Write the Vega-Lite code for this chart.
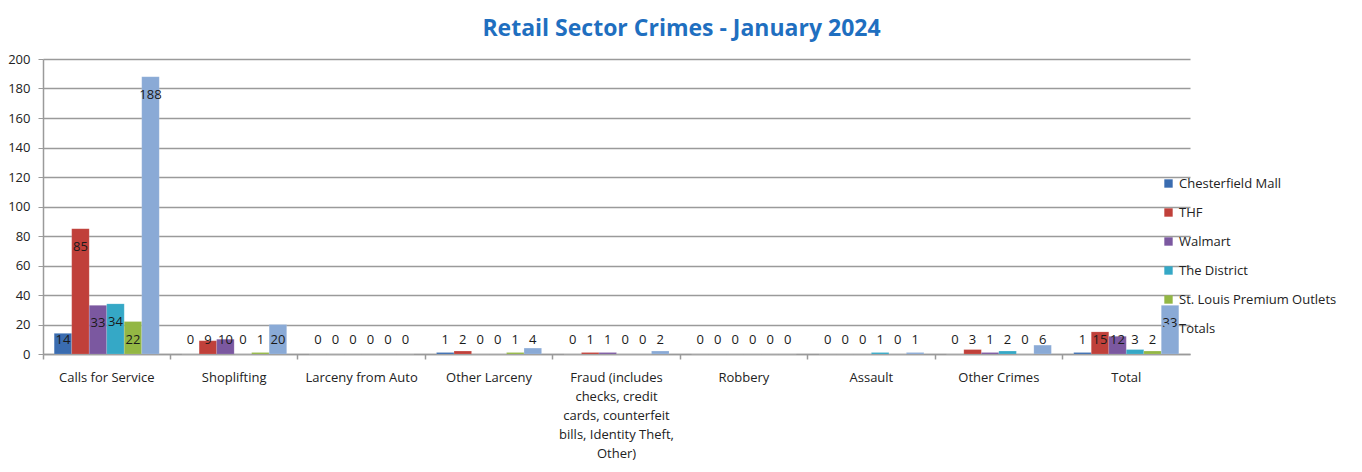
{
  "$schema": "https://vega.github.io/schema/vega-lite/v6.json",
  "width": 1147,
  "height": 295,
  "autosize": {"type": "none"},
  "padding": {"left": 43, "top": 59, "right": 172, "bottom": 118},
  "background": "white",
  "title": {
    "text": "Retail Sector Crimes - January 2024",
    "font": "Open Sans",
    "fontSize": 23,
    "fontWeight": "bold",
    "color": "#1F6FC0",
    "anchor": "middle",
    "dx": 65,
    "offset": 12
  },
  "config": {
    "view": {"stroke": null},
    "axis": {"labelFont": "Open Sans", "labelFontSize": 13, "labelColor": "#222222"},
    "legend": {"labelFont": "Open Sans", "labelFontSize": 13, "labelColor": "#222222"}
  },
  "data": {
    "values": [
      {"category": "Calls for Service", "series": "Chesterfield Mall", "value": 14},
      {"category": "Calls for Service", "series": "THF", "value": 85},
      {"category": "Calls for Service", "series": "Walmart", "value": 33},
      {"category": "Calls for Service", "series": "The District", "value": 34},
      {"category": "Calls for Service", "series": "St. Louis Premium Outlets", "value": 22},
      {"category": "Calls for Service", "series": "Totals", "value": 188},
      {"category": "Shoplifting", "series": "Chesterfield Mall", "value": 0},
      {"category": "Shoplifting", "series": "THF", "value": 9},
      {"category": "Shoplifting", "series": "Walmart", "value": 10},
      {"category": "Shoplifting", "series": "The District", "value": 0},
      {"category": "Shoplifting", "series": "St. Louis Premium Outlets", "value": 1},
      {"category": "Shoplifting", "series": "Totals", "value": 20},
      {"category": "Larceny from Auto", "series": "Chesterfield Mall", "value": 0},
      {"category": "Larceny from Auto", "series": "THF", "value": 0},
      {"category": "Larceny from Auto", "series": "Walmart", "value": 0},
      {"category": "Larceny from Auto", "series": "The District", "value": 0},
      {"category": "Larceny from Auto", "series": "St. Louis Premium Outlets", "value": 0},
      {"category": "Larceny from Auto", "series": "Totals", "value": 0},
      {"category": "Other Larceny", "series": "Chesterfield Mall", "value": 1},
      {"category": "Other Larceny", "series": "THF", "value": 2},
      {"category": "Other Larceny", "series": "Walmart", "value": 0},
      {"category": "Other Larceny", "series": "The District", "value": 0},
      {"category": "Other Larceny", "series": "St. Louis Premium Outlets", "value": 1},
      {"category": "Other Larceny", "series": "Totals", "value": 4},
      {"category": "Fraud (includes checks, credit cards, counterfeit bills, Identity Theft, Other)", "series": "Chesterfield Mall", "value": 0},
      {"category": "Fraud (includes checks, credit cards, counterfeit bills, Identity Theft, Other)", "series": "THF", "value": 1},
      {"category": "Fraud (includes checks, credit cards, counterfeit bills, Identity Theft, Other)", "series": "Walmart", "value": 1},
      {"category": "Fraud (includes checks, credit cards, counterfeit bills, Identity Theft, Other)", "series": "The District", "value": 0},
      {"category": "Fraud (includes checks, credit cards, counterfeit bills, Identity Theft, Other)", "series": "St. Louis Premium Outlets", "value": 0},
      {"category": "Fraud (includes checks, credit cards, counterfeit bills, Identity Theft, Other)", "series": "Totals", "value": 2},
      {"category": "Robbery", "series": "Chesterfield Mall", "value": 0},
      {"category": "Robbery", "series": "THF", "value": 0},
      {"category": "Robbery", "series": "Walmart", "value": 0},
      {"category": "Robbery", "series": "The District", "value": 0},
      {"category": "Robbery", "series": "St. Louis Premium Outlets", "value": 0},
      {"category": "Robbery", "series": "Totals", "value": 0},
      {"category": "Assault", "series": "Chesterfield Mall", "value": 0},
      {"category": "Assault", "series": "THF", "value": 0},
      {"category": "Assault", "series": "Walmart", "value": 0},
      {"category": "Assault", "series": "The District", "value": 1},
      {"category": "Assault", "series": "St. Louis Premium Outlets", "value": 0},
      {"category": "Assault", "series": "Totals", "value": 1},
      {"category": "Other Crimes", "series": "Chesterfield Mall", "value": 0},
      {"category": "Other Crimes", "series": "THF", "value": 3},
      {"category": "Other Crimes", "series": "Walmart", "value": 1},
      {"category": "Other Crimes", "series": "The District", "value": 2},
      {"category": "Other Crimes", "series": "St. Louis Premium Outlets", "value": 0},
      {"category": "Other Crimes", "series": "Totals", "value": 6},
      {"category": "Total", "series": "Chesterfield Mall", "value": 1},
      {"category": "Total", "series": "THF", "value": 15},
      {"category": "Total", "series": "Walmart", "value": 12},
      {"category": "Total", "series": "The District", "value": 3},
      {"category": "Total", "series": "St. Louis Premium Outlets", "value": 2},
      {"category": "Total", "series": "Totals", "value": 33}
    ]
  },
  "encoding": {
    "x": {
      "field": "category",
      "type": "nominal",
      "sort": null,
      "axis": null,
      "scale": {"paddingInner": 0, "paddingOuter": 0}
    },
    "xOffset": {
      "field": "series",
      "type": "nominal",
      "sort": ["Chesterfield Mall", "THF", "Walmart", "The District", "St. Louis Premium Outlets", "Totals"],
      "scale": {"paddingInner": 0, "paddingOuter": 0.64}
    }
  },
  "layer": [
    {
      "mark": {"type": "bar", "stroke": "#ffffff", "strokeOpacity": 0.25, "strokeWidth": 0.5},
      "encoding": {
        "x": {
          "field": "category",
          "type": "nominal",
          "sort": null,
          "title": null,
          "axis": {
            "orient": "bottom",
            "labelAngle": 0,
            "ticks": false,
            "domainColor": "#9a9a9a",
            "domainWidth": 1.5,
            "labelPadding": 17,
            "labelLineHeight": 19,
            "labelLimit": 200,
            "labelExpr": "datum.value == 'Fraud (includes checks, credit cards, counterfeit bills, Identity Theft, Other)' ? ['Fraud (includes', 'checks, credit', 'cards, counterfeit', 'bills, Identity Theft,', 'Other)'] : datum.value"
          }
        },
        "y": {
          "field": "value",
          "type": "quantitative",
          "title": null,
          "scale": {"domain": [0, 200]},
          "axis": {
            "values": [0, 20, 40, 60, 80, 100, 120, 140, 160, 180, 200],
            "labelOverlap": false,
            "domainColor": "#9a9a9a",
            "domainWidth": 1.5,
            "tickColor": "#9a9a9a",
            "tickSize": 5,
            "labelPadding": 8,
            "gridColor": "#9a9a9a",
            "gridWidth": 1.5
          }
        },
        "color": {
          "field": "series",
          "type": "nominal",
          "title": null,
          "sort": ["Chesterfield Mall", "THF", "Walmart", "The District", "St. Louis Premium Outlets", "Totals"],
          "scale": {
            "domain": ["Chesterfield Mall", "THF", "Walmart", "The District", "St. Louis Premium Outlets", "Totals"],
            "range": ["#3A6CB0", "#C0403A", "#7B58A0", "#35A8C6", "#93B744", "#8AAAD6"]
          },
          "legend": {
            "orient": "none",
            "legendX": 1119,
            "legendY": 118,
            "symbolType": "square",
            "symbolSize": 70,
            "symbolStrokeWidth": 0,
            "labelOffset": 4,
            "rowPadding": 15,
            "labelLimit": 250
          }
        }
      }
    },
    {
      "mark": {"type": "rule", "opacity": 0},
      "encoding": {
        "x": {
          "field": "category",
          "type": "nominal",
          "sort": null,
          "title": null,
          "axis": {
            "orient": "bottom",
            "labels": false,
            "domain": false,
            "ticks": true,
            "bandPosition": 0,
            "tickSize": 5,
            "tickColor": "#9a9a9a",
            "tickWidth": 1.5
          }
        }
      }
    },
    {
      "transform": [{"filter": "datum.value > 22"}],
      "mark": {"type": "text", "dy": 18, "font": "Open Sans", "fontSize": 13, "color": "#1a1a1a"},
      "encoding": {
        "y": {
          "field": "value",
          "type": "quantitative",
          "title": null,
          "axis": {
            "values": [0, 20, 40, 60, 80, 100, 120, 140, 160, 180, 200],
            "labelOverlap": false,
            "domainColor": "#9a9a9a",
            "domainWidth": 1.5,
            "tickColor": "#9a9a9a",
            "tickSize": 5,
            "labelPadding": 8,
            "gridColor": "#9a9a9a",
            "gridWidth": 1.5
          }
        },
        "text": {"field": "value", "type": "quantitative"}
      }
    },
    {
      "transform": [{"filter": "datum.value <= 22"}],
      "mark": {"type": "text", "dy": -14, "font": "Open Sans", "fontSize": 13, "color": "#1a1a1a"},
      "encoding": {
        "y": {
          "datum": 0,
          "type": "quantitative",
          "title": null,
          "axis": {
            "values": [0, 20, 40, 60, 80, 100, 120, 140, 160, 180, 200],
            "labelOverlap": false,
            "domainColor": "#9a9a9a",
            "domainWidth": 1.5,
            "tickColor": "#9a9a9a",
            "tickSize": 5,
            "labelPadding": 8,
            "gridColor": "#9a9a9a",
            "gridWidth": 1.5
          }
        },
        "text": {"field": "value", "type": "quantitative"}
      }
    }
  ],
  "resolve": {"axis": {"x": "independent"}}
}
